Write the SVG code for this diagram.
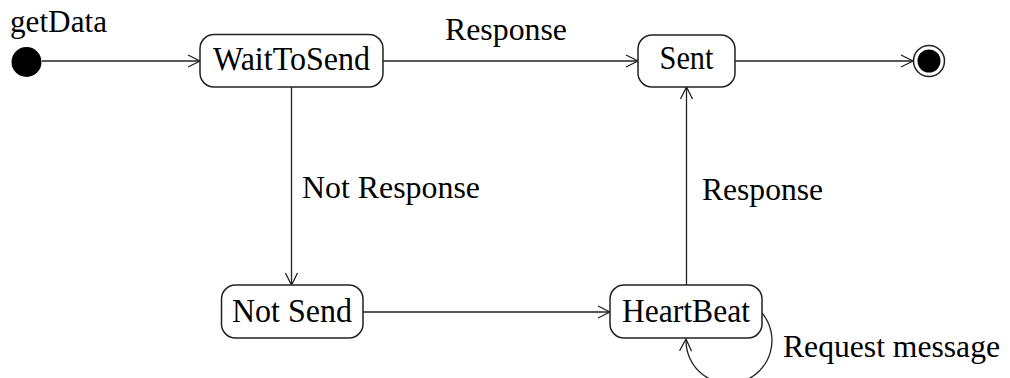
<svg xmlns="http://www.w3.org/2000/svg" width="1010" height="378" viewBox="0 0 1010 378">
<style>
.state{fill:#fff;stroke:#222;stroke-width:1.5}
.t{font-family:"Liberation Serif","Times New Roman",serif;font-size:33px;fill:#000}
.lbl{font-family:"Liberation Serif","Times New Roman",serif;font-size:31px;fill:#000}
.c{fill:none;stroke:#222;stroke-width:1.3}
</style>
<defs>
<marker id="open" markerUnits="userSpaceOnUse" markerWidth="16" markerHeight="16" refX="13" refY="7" orient="auto">
<path d="M1,1 L13,7 L1,13" fill="none" stroke="#222" stroke-width="1.3"/>
</marker>
</defs>
<g id="connectors">
<line class="c" x1="42" y1="61" x2="200" y2="61" marker-end="url(#open)"/>
<line class="c" x1="383" y1="61" x2="638" y2="61" marker-end="url(#open)"/>
<line class="c" x1="735" y1="61" x2="913" y2="61" marker-end="url(#open)"/>
<line class="c" x1="291.5" y1="87" x2="291.5" y2="285" marker-end="url(#open)"/>
<line class="c" x1="363" y1="312" x2="610" y2="312" marker-end="url(#open)"/>
<line class="c" x1="686.5" y1="285" x2="686.5" y2="87" marker-end="url(#open)"/>
<path class="c" d="M762,313 A43,43 0 1,1 686,339" marker-end="url(#open)"/>
<text class="lbl" x="445" y="40" textLength="122" lengthAdjust="spacingAndGlyphs">Response</text>
<text class="lbl" x="302" y="198" textLength="178" lengthAdjust="spacingAndGlyphs">Not Response</text>
<text class="lbl" x="702" y="200" textLength="121" lengthAdjust="spacingAndGlyphs">Response</text>
<text class="lbl" x="783" y="357" textLength="217" lengthAdjust="spacingAndGlyphs">Request message</text>
</g>
<g id="start">
<circle cx="26.5" cy="62" r="15" fill="#000"/>
<text class="lbl" x="10" y="32" textLength="97" lengthAdjust="spacingAndGlyphs">getData</text>
</g>
<g id="WaitToSend">
<rect class="state" x="200" y="34.5" width="183" height="52.5" rx="14"/>
<text class="t" x="291.5" y="70" text-anchor="middle" textLength="157" lengthAdjust="spacingAndGlyphs">WaitToSend</text>
</g>
<g id="Sent">
<rect class="state" x="638" y="35" width="97" height="52" rx="14"/>
<text class="t" x="686.5" y="69" text-anchor="middle" textLength="54" lengthAdjust="spacingAndGlyphs">Sent</text>
</g>
<g id="end">
<circle cx="929" cy="61" r="15.5" fill="#fff" stroke="#222" stroke-width="1.5"/>
<circle cx="929" cy="61" r="11.5" fill="#000"/>
</g>
<g id="NotSend">
<rect class="state" x="221.5" y="285" width="141.5" height="53" rx="14"/>
<text class="t" x="292" y="322" text-anchor="middle" textLength="120" lengthAdjust="spacingAndGlyphs">Not Send</text>
</g>
<g id="HeartBeat">
<rect class="state" x="610" y="285" width="152" height="53" rx="14"/>
<text class="t" x="686" y="322" text-anchor="middle" textLength="128" lengthAdjust="spacingAndGlyphs">HeartBeat</text>
</g>
</svg>
